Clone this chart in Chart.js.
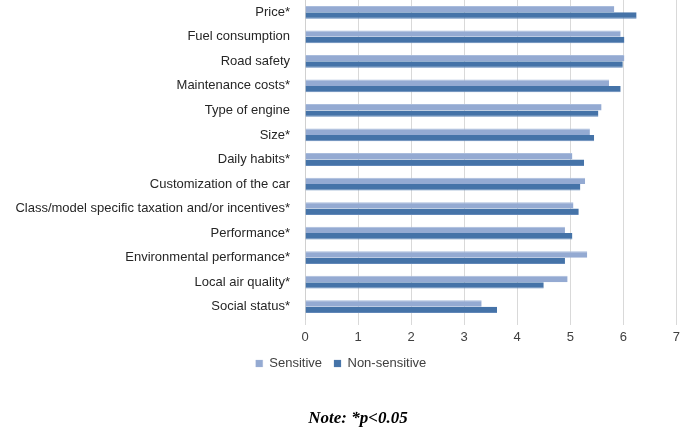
<!DOCTYPE html>
<html>
<head>
<meta charset="utf-8">
<script src="https://cdn.jsdelivr.net/npm/chart.js@4/dist/chart.umd.min.js"></script>
<style>
  html, body { margin: 0; padding: 0; background: #fff; }
  #wrap { position: relative; width: 685px; height: 427px; }
  #note {
    position: absolute; left: 258px; width: 200px; top: 408px;
    text-align: center;
    font: italic bold 17px "Liberation Serif", serif;
    color: #000;
  }
</style>
</head>
<body>
<div id="wrap">
  <canvas id="grafik"></canvas>
  <div id="note">Note: *p&lt;0.05</div>
</div>
<script>
// Categories and values
const categories = [
    'Price*',
    'Fuel consumption',
    'Road safety',
    'Maintenance costs*',
    'Type of engine',
    'Size*',
    'Daily habits*',
    'Customization of the car',
    'Class/model specific taxation and/or incentives*',
    'Performance*',
    'Environmental performance*',
    'Local air quality*',
    'Social status*'
];
const sensitive    = [5.83, 5.95, 6.02, 5.73, 5.59, 5.37, 5.04, 5.28, 5.06, 4.90, 5.32, 4.95, 3.33];
const nonSensitive = [6.25, 6.02, 5.99, 5.95, 5.53, 5.45, 5.26, 5.19, 5.16, 5.04, 4.90, 4.50, 3.62];
const xTicks = [0, 1, 2, 3, 4, 5, 6, 7];

const ctx = document.getElementById('grafik');

const data = {
    labels: categories,
    datasets: [
        {
            label: 'Sensitive',
            data: sensitive,
            backgroundColor: '#94aad2',
            borderColor: '#a9bcdc',
            borderWidth: { top: 1, bottom: 0, left: 0, right: 0 },
            categoryPercentage: 0.52,
            barPercentage: 1.0,
        },
        {
            label: 'Non-sensitive',
            data: nonSensitive,
            backgroundColor: '#4573a8',
            borderColor: '#6187b8',
            borderWidth: { top: 0, bottom: 1, left: 0, right: 0 },
            categoryPercentage: 0.52,
            barPercentage: 1.0,
        }
    ]
};

const options = {
    indexAxis: 'y',
    responsive: true,
    maintainAspectRatio: false,
    animation: false,
    layout: {
        padding: { top: 0, right: 3, left: 0, bottom: 47 }
    },
    scales: {
        x: {
            min: 0,
            max: 7,
            afterBuildTicks: (scale) => {
                scale.ticks = xTicks.map(v => ({ value: v }));
            },
            grid: {
                color: '#d9d9d9',
                tickLength: 6,
                drawTicks: true,
            },
            border: { display: false },
            ticks: {
                padding: 5,
                color: '#404040',
                font: { family: 'Liberation Sans', size: 13 },
                maxRotation: 0,
            },
            afterFit: (scale) => { scale.height = 26; }
        },
        y: {
            grid: { display: false },
            border: { display: true, color: '#d0d0d0' },
            ticks: {
                padding: 7,
                color: '#262626',
                autoSkip: false,
                font: { family: 'Liberation Sans', size: 13 },
            },
            afterFit: (scale) => {
                // fixed label column, no extra space above/below the bars
                scale.width = 305;
                scale.paddingTop = 0;
                scale.paddingBottom = 0;
            }
        }
    },
    plugins: {
        legend: {
            position: 'bottom',
            labels: {
                boxWidth: 7,
                boxHeight: 7,
                padding: 12,
                color: '#404040',
                font: { family: 'Liberation Sans', size: 13 },
            }
        },
        tooltip: { enabled: false }
    }
};

new Chart(ctx, { type: 'bar', data: data, options: options });
</script>
</body>
</html>
